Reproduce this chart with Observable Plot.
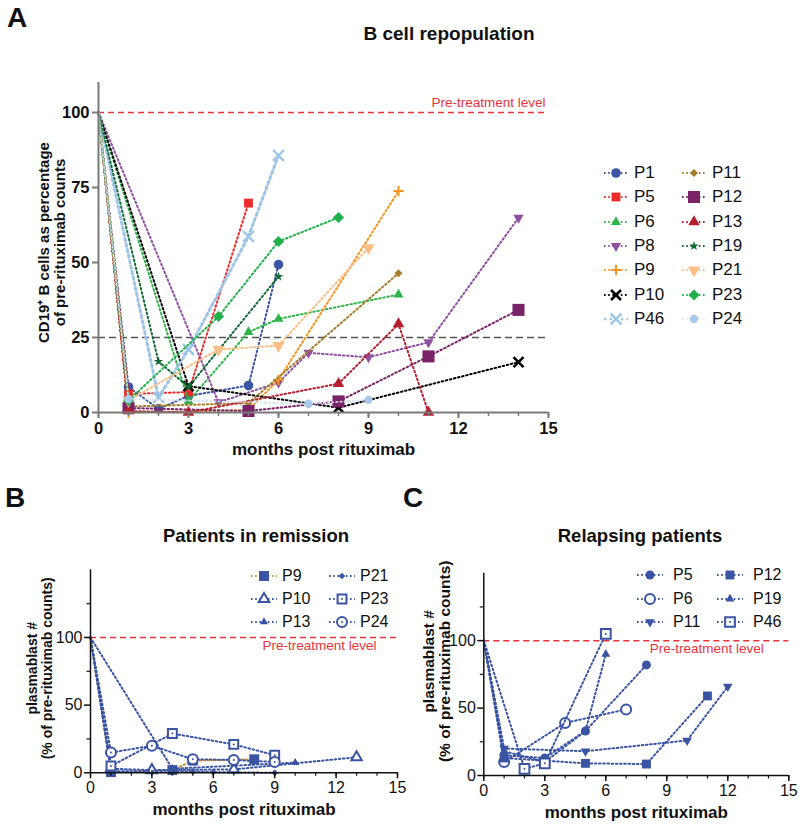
<!DOCTYPE html>
<html><head><meta charset="utf-8">
<script src="https://cdn.jsdelivr.net/npm/d3@7"></script>
<script src="https://cdn.jsdelivr.net/npm/@observablehq/plot@0.6"></script>
<style>
body{margin:0;background:#fff;font-family:"Liberation Sans",Arial,sans-serif;}
#root{position:relative;width:800px;height:825px;overflow:hidden;background:#fff;}
.abs{position:absolute;}
.letter{font-weight:bold;font-size:28px;line-height:1;color:#111;}
.title{font-weight:bold;font-size:18px;line-height:1;transform:translateX(-50%);white-space:nowrap;color:#111;}
.legend{display:grid;}
.item{display:flex;align-items:center;white-space:nowrap;color:#111;}
.item svg{display:block;flex:none;}
</style></head>
<body><div id="root"></div>
<script>
// ---------------- DATA ----------------
// Panel A: B cell repopulation (CD19+ B cells, % of pre-rituximab counts)
const aPatients = ["P1","P5","P6","P8","P9","P10","P46","P11","P12","P13","P19","P21","P23","P24"];
const aMonths = [
  [0,1,2,3,5,6],
  [0,1,3,5],
  [0,3,5,6,10],
  [0,4,6,7,9,11,14],
  [0,1,5,6,10],
  [0,3,8,14],
  [0,2,3,5,6],
  [0,1,5,10],
  [0,1,5,8,11,14],
  [0,1,3,8,10,11],
  [0,2,3,6],
  [0,1,4,6,9],
  [0,1,4,6,8],
  [0,1,7,9]
];
const aValues = [
  [100,8.5,1.2,5.5,9,49.3],
  [100,6.2,6.8,69.8],
  [100,3.8,26.8,31.2,39.3],
  [100,3.4,10,19.9,18.4,23.4,64.9],
  [100,0,0.8,10.9,73.8],
  [100,8.8,1.6,16.8],
  [100,5,21,58.7,85.7],
  [100,2,3.1,46.4],
  [100,1.5,0.5,3.7,18.7,34.2],
  [100,0.5,0,9.6,29.5,0],
  [100,17,8.5,45.3],
  [100,4,21,22.3,54.9],
  [100,4,32,57,65],
  [100,4.5,2.9,4.2]
];
// Panel B: plasmablasts, patients in remission
const bPatients = ["P9","P10","P13","P21","P23","P24"];
const bMonths = [
  [0,1,4,5,8],
  [0,1,3,7,13],
  [0,4,10],
  [0,1,4,5,6,9],
  [0,1,4,7,9],
  [0,1,3,5,7,9]
];
const bValues = [
  [100,0.5,2,9,10],
  [100,3,2,2.5,11.5],
  [100,3,7.5],
  [100,1,1.5,1,0.5,0],
  [100,5,29,21,13],
  [100,15,20,10,9.5,8]
];
// Panel C: plasmablasts, relapsing patients
const cPatients = ["P5","P6","P11","P12","P19","P46"];
const cMonths = [
  [0,1,3,5,8],
  [0,1,4,7],
  [0,1,5,10,12],
  [0,1,5,8,11],
  [0,1,3,5,6],
  [0,2,3,6]
];
const cValues = [
  [100,15,13,33,82],
  [100,10,39,49],
  [100,20,18,26,66],
  [100,13,9,8.5,59],
  [100,18,10,33,90],
  [100,5,9,105]
];
const preTreatment = 100;
const threshold = 25;
const xTicksMajor = [0,3,6,9,12,15];
const xTicksMinor = d3.range(0,16);
const aYTicks = [0,25,50,75,100];
const bcYTicks = [0,50,100];
const bcYMinor = [25,75,125];

// ---------------- STYLES ----------------
const sqrt3 = Math.sqrt(3);
const triangleDown = {draw(ctx, size){ const y = -Math.sqrt(size/(sqrt3*3)); ctx.moveTo(0,-2*y); ctx.lineTo(sqrt3*y,y); ctx.lineTo(-sqrt3*y,y); ctx.closePath(); }};
const d3Sym = {circle:d3.symbolCircle, square:d3.symbolSquare, triangle:d3.symbolTriangle, diamond2:d3.symbolDiamond2, star:d3.symbolStar, times:d3.symbolTimes, plus:d3.symbolPlus};
const toD3 = s => typeof s === "string" ? d3Sym[s] : s;
const DASH = "1.6,2.6";

const aStyle = {
  P1:{c:"#3b55a5", s:"circle", r:4.8},
  P5:{c:"#ee2b2b", s:"square", r:5},
  P6:{c:"#2fb44a", s:"triangle", r:3.7},
  P8:{c:"#8f50a1", s:triangleDown, r:3.8},
  P9:{c:"#f7941d", s:"plus", r:3.4, stroke:true, sw:2},
  P10:{c:"#000000", s:"times", r:4.6, stroke:true, sw:2.6},
  P46:{c:"#9ec5e8", s:"times", r:5, stroke:true, sw:2.4, lw:3, dash:"2.4,3.2"},
  P11:{c:"#a67c2e", s:"diamond2", r:3.6},
  P12:{c:"#7b2369", s:"square", r:6.8},
  P13:{c:"#b51f2e", s:"triangle", r:4.3},
  P19:{c:"#106b35", s:"star", r:3},
  P21:{c:"#fbbe86", s:triangleDown, r:4.6},
  P23:{c:"#21b14b", s:"diamond2", r:5},
  P24:{c:"#a8c9ec", s:"circle", r:4.2, lc:"#cfdff2", lw:1.6}
};
const blue = "#3a54a4";
const bStyle = {
  P9:{s:"square", r:5.6, lc:"#c8963c"},
  P21:{s:"diamond2", r:3},
  P10:{s:"triangle", r:3.9, open:true},
  P23:{s:"square", r:5, open:true, inner:true},
  P13:{s:"triangle", r:3},
  P24:{s:"circle", r:5, open:true, inner:true}
};
const cStyle = {
  P5:{s:"circle", r:4.5},
  P12:{s:"square", r:5},
  P6:{s:"circle", r:5, open:true},
  P19:{s:"triangle", r:3.3},
  P11:{s:triangleDown, r:3.6},
  P46:{s:"square", r:5.5, open:true, inner:true}
};

// ---------------- HELPERS ----------------
function rows(months, values){ return months.map((m,i)=>({m, v: values[i]})); }

function seriesMarks(names, months, values, style, defColor){
  const marks = [];
  names.forEach((n,i)=>{
    const st = style[n];
    const col = st.c || defColor;
    const data = rows(months[i], values[i]);
    const pts = data.filter(d => d.m > 0); // baseline point drawn without a marker
    marks.push(Plot.line(data, {x:"m", y:"v", stroke: st.lc || col, strokeWidth: st.lw || 2, strokeDasharray: st.dash || DASH}));
    if (st.stroke) {
      marks.push(Plot.dot(pts, {x:"m", y:"v", symbol: st.s, r: st.r, fill:"none", stroke: col, strokeWidth: st.sw || 2}));
    } else if (st.open) {
      marks.push(Plot.dot(pts, {x:"m", y:"v", symbol: st.s, r: st.r, fill:"white", stroke: col, strokeWidth: 2}));
      if (st.inner) marks.push(Plot.dot(pts, {x:"m", y:"v", r: 1, fill: col}));
    } else {
      marks.push(Plot.dot(pts, {x:"m", y:"v", symbol: st.s, r: st.r, fill: col, stroke:"none"}));
    }
  });
  return marks;
}

function swatch(st, defColor, w){
  const col = st.c || defColor;
  const h = 16;
  const svg = d3.create("svg").attr("width", w).attr("height", h);
  svg.append("line").attr("x1",0).attr("x2",w).attr("y1",h/2).attr("y2",h/2)
    .attr("stroke", st.lc || col).attr("stroke-width", st.lw ? Math.min(st.lw,2.5) : 2).attr("stroke-dasharray", st.dash || DASH);
  const path = d3.symbol().type(toD3(st.s)).size(Math.PI*st.r*st.r)();
  const p = svg.append("path").attr("d", path).attr("transform", `translate(${w/2},${h/2})`);
  if (st.stroke) p.attr("fill","none").attr("stroke",col).attr("stroke-width", st.sw||2);
  else if (st.open) {
    p.attr("fill","white").attr("stroke",col).attr("stroke-width",2);
    if (st.inner) svg.append("circle").attr("cx",w/2).attr("cy",h/2).attr("r",1).attr("fill",col);
  } else p.attr("fill",col);
  return svg.node();
}

function legend(names, style, defColor, {left, top, colW, rowH, swW, gap, fontSize}){
  const div = document.createElement("div");
  div.className = "abs legend";
  div.style.left = left+"px"; div.style.top = top+"px";
  const nRows = Math.ceil(names.length/2);
  div.style.gridTemplateColumns = `${colW}px ${colW}px`;
  div.style.gridTemplateRows = `repeat(${nRows}, ${rowH}px)`;
  div.style.gridAutoFlow = "column";
  names.forEach(n=>{
    const it = document.createElement("div");
    it.className = "item";
    it.style.fontSize = fontSize+"px";
    it.appendChild(swatch(style[n], defColor, swW));
    const sp = document.createElement("span");
    sp.textContent = n; sp.style.marginLeft = gap+"px";
    it.appendChild(sp);
    div.appendChild(it);
  });
  return div;
}

function place(node, left, top){ node.style.position="absolute"; node.style.left=left+"px"; node.style.top=top+"px"; return node; }
function textDiv(cls, txt, left, top, extra){ const d=document.createElement("div"); d.className="abs "+cls; d.textContent=txt; d.style.left=left+"px"; d.style.top=top+"px"; if(extra) Object.assign(d.style, extra); return d; }

const root = document.getElementById("root");
const font = "'Liberation Sans', Arial, sans-serif";

// ---------------- PANEL A ----------------
const axGray = "#7a7a7a";
const plotA = Plot.plot({
  width: 800, height: 465,
  marginLeft: 98, marginRight: 252, marginTop: 82, marginBottom: 53,
  style: {background:"transparent", fontFamily: font, overflow:"visible"},
  x: {domain:[0,15]}, y: {domain:[0,110]},
  marks: [
    Plot.ruleY([preTreatment], {stroke:"#e8343a", strokeWidth:1.5, strokeDasharray:"6,4"}),
    Plot.ruleY([threshold], {stroke:"#555", strokeWidth:1.5, strokeDasharray:"7,4"}),
    Plot.text(["Pre-treatment level"], {x:15, y:preTreatment, textAnchor:"end", lineAnchor:"bottom", dx:-3, dy:-6, fill:"#e8343a", fontSize:13.5}),
    ...seriesMarks(aPatients, aMonths, aValues, aStyle, "#000"),
    Plot.ruleX([0], {stroke:axGray, strokeWidth:2}),
    Plot.ruleY([0], {stroke:axGray, strokeWidth:2}),
    Plot.axisX(xTicksMinor, {tickSize:4, tickFormat:()=>"", stroke:axGray, strokeWidth:1.5, label:null}),
    Plot.axisX(xTicksMajor, {tickSize:6, tickPadding:4, stroke:axGray, strokeWidth:2, fill:"#111", fontSize:16.5, fontWeight:"bold", label:null}),
    Plot.axisY(aYTicks, {tickSize:6, tickPadding:3, stroke:axGray, strokeWidth:2, fill:"#111", fontSize:16.5, fontWeight:"bold", label:null}),
    Plot.text(["months post rituximab"], {frameAnchor:"bottom", lineAnchor:"middle", dy:37, fontSize:17, fontWeight:"bold", fill:"#111"}),
    Plot.text(["CD19⁺ B cells as percentage\nof pre-rituximab counts"], {frameAnchor:"left", rotate:-90, textAnchor:"middle", lineAnchor:"middle", lineHeight:1.1, dx:-47, dy:-5, fontSize:15, fontWeight:"bold", fill:"#111"})
  ]
});
root.appendChild(place(plotA, 0, 0));

// ---------------- PANELS B & C ----------------
function bcPlot(names, months, values, style, opts){
  return Plot.plot({
    width: opts.width, height: 355,
    marginLeft: opts.ml, marginRight: opts.mr, marginTop: opts.mt, marginBottom: opts.mb,
    style: {background:"transparent", fontFamily: font, overflow:"visible"},
    x: {domain:[0,15]}, y: {domain:[0,150]},
    marks: [
      Plot.ruleY([preTreatment], {stroke:"#e8343a", strokeWidth:1.5, strokeDasharray:"6,4"}),
      Plot.text(["Pre-treatment level"], {x:15, y:preTreatment, textAnchor:"end", lineAnchor:"top", dx:opts.lblDx, dy:3, fill:"#e8343a", fontSize:13.5}),
      ...seriesMarks(names, months, values, style, blue),
      Plot.ruleX([0], {stroke:"#111", strokeWidth:1.5}),
      Plot.ruleY([0], {stroke:"#111", strokeWidth:1.5}),
      Plot.axisX(xTicksMinor, {tickSize:3.5, tickFormat:()=>"", stroke:"#111", strokeWidth:1.2, label:null}),
      Plot.axisX(xTicksMajor, {tickSize:6, tickPadding:3, stroke:"#111", strokeWidth:1.5, fill:"#111", fontSize:16, label:null}),
      Plot.axisY(bcYMinor, {tickSize:3.5, tickFormat:()=>"", stroke:"#111", strokeWidth:1.2, label:null}),
      Plot.axisY(bcYTicks, {tickSize:6, tickPadding:2, stroke:"#111", strokeWidth:1.5, fill:"#111", fontSize:16, label:null}),
      Plot.text(["months post rituximab"], {frameAnchor:"bottom", lineAnchor:"middle", dy:37, fontSize:17, fontWeight:"bold", fill:"#111"}),
      Plot.text(["plasmablast #\n(% of pre-rituximab counts)"], {frameAnchor:"left", rotate:-90, textAnchor:"middle", lineAnchor:"middle", lineHeight:1.05, dx:opts.ydx, dy:opts.ydy, fontSize:opts.yfs, fontWeight:"bold", fill:"#111"})
    ]
  });
}
const plotB = bcPlot(bPatients, bMonths, bValues, bStyle, {width:420, ml:90, mr:23, mt:99.3, mb:52.7, lblDx:-21, ydx:-51, ydy:-3, yfs:14});
root.appendChild(place(plotB, 0, 470));
const plotC = bcPlot(cPatients, cMonths, cValues, cStyle, {width:400, ml:83.3, mr:11.7, mt:102.7, mb:50, lblDx:-25, ydx:-47, ydy:-13, yfs:15.5});
root.appendChild(place(plotC, 400, 470));

// ---------------- TEXT & LEGENDS ----------------
root.appendChild(textDiv("letter", "A", 7, 4));
root.appendChild(textDiv("title", "B cell repopulation", 449, 24, {fontSize:"19px"}));
root.appendChild(textDiv("letter", "B", 5, 484));
root.appendChild(textDiv("title", "Patients in remission", 256, 527, {fontSize:"18.5px"}));
root.appendChild(textDiv("letter", "C", 403, 484));
root.appendChild(textDiv("title", "Relapsing patients", 640, 527, {fontSize:"18.5px"}));

root.appendChild(legend(aPatients, aStyle, "#000", {left:604, top:161, colW:78, rowH:24.3, swW:24, gap:6, fontSize:17}));
root.appendChild(legend(bPatients, bStyle, blue, {left:251, top:565, colW:78, rowH:22.8, swW:26, gap:5, fontSize:16}));
root.appendChild(legend(cPatients, cStyle, blue, {left:637, top:563.5, colW:80, rowH:23.6, swW:26, gap:10, fontSize:16}));
</script></body></html>
